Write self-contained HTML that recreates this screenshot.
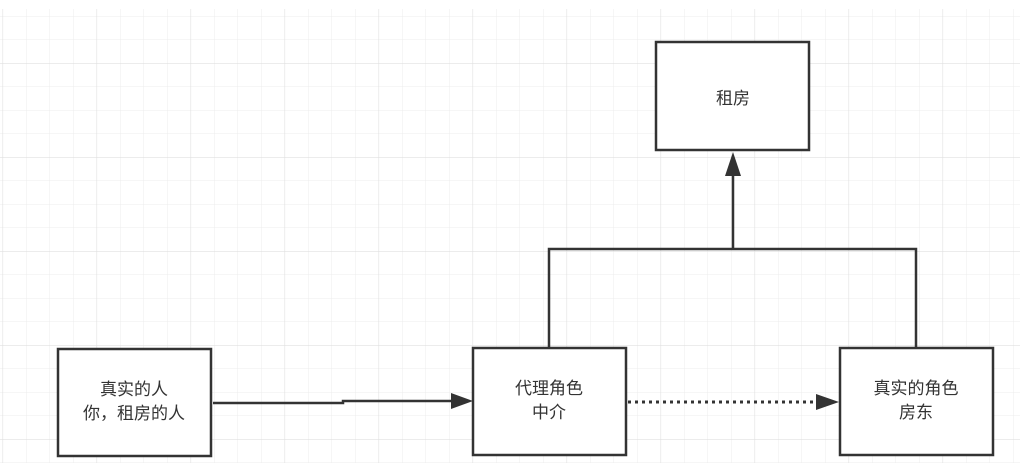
<!DOCTYPE html>
<html><head><meta charset="utf-8">
<style>
html,body{margin:0;padding:0;background:#fff;}
svg{display:block;}
text{font-family:"Liberation Sans","Noto Sans CJK SC",sans-serif;font-size:17px;fill:#333;text-anchor:middle;}
</style></head>
<body>
<svg width="1020" height="463" viewBox="0 0 1020 463" xmlns="http://www.w3.org/2000/svg">
<defs>
<pattern id="g" x="2.5" y="16" width="23.5" height="23.5" patternUnits="userSpaceOnUse">
<path d="M0 0V23.5M0 0H23.5" stroke="#ececec" stroke-width="1" fill="none"/>
</pattern>
<pattern id="G" x="2.5" y="-31" width="94" height="94" patternUnits="userSpaceOnUse">
<path d="M0 0V94M0 0H94" stroke="#e0e0e0" stroke-width="1.2" fill="none"/>
</pattern>
</defs>
<rect x="0" y="9" width="1020" height="454" fill="url(#g)"/>
<rect x="0" y="9" width="1020" height="454" fill="url(#G)"/>

<g fill="#fff" stroke="#333" stroke-width="2.5">
<rect x="58" y="349" width="153" height="107"/>
<rect x="473" y="348" width="153" height="107"/>
<rect x="840" y="348" width="153" height="107"/>
<rect x="656" y="42" width="153" height="108"/>
</g>

<g stroke="#333" stroke-width="2.5" fill="none">
<path d="M213 403H343V401H452"/>
<path d="M549 348V249H916V348"/>
<path d="M733 249V175"/>
<path d="M628 402H818" stroke-dasharray="3,4" stroke-width="3"/>
</g>
<g fill="#333">
<polygon points="473,401 451,393 451,409"/>
<polygon points="733,152 725,176 741,176"/>
<polygon points="839,402 816,394 816,410"/>
</g>

<text x="134" y="395">真实的人</text>
<text x="134" y="419">你，租房的人</text>
<text x="549" y="394">代理角色</text>
<text x="549" y="418">中介</text>
<text x="916" y="394">真实的角色</text>
<text x="916" y="418">房东</text>
<text x="733" y="104">租房</text>
</svg>
</body></html>
